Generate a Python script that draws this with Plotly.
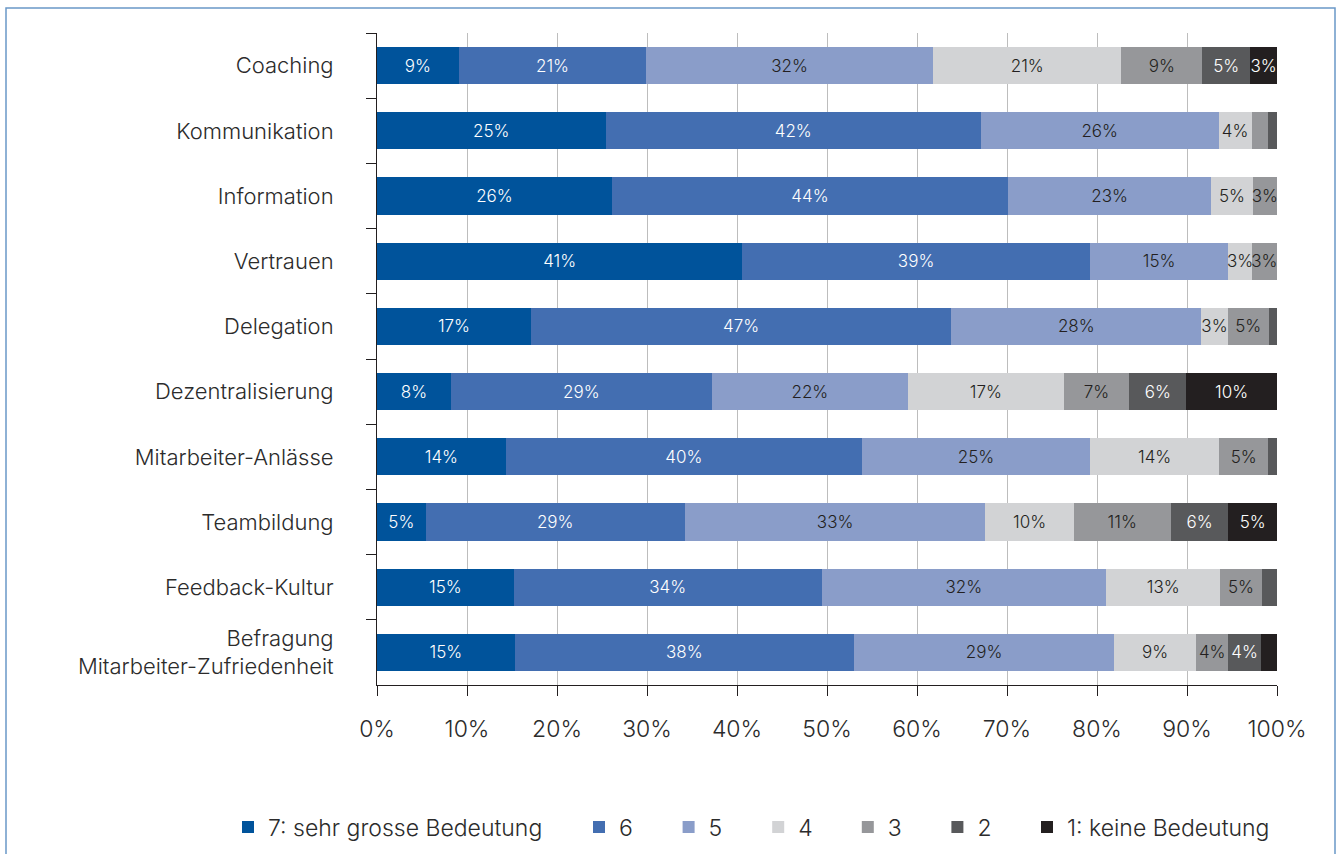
import plotly.graph_objects as go

# Categories, top to bottom
categories = [
    "Coaching",
    "Kommunikation",
    "Information",
    "Vertrauen",
    "Delegation",
    "Dezentralisierung",
    "Mitarbeiter-Anlässe",
    "Teambildung",
    "Feedback-Kultur",
    "Befragung<br>Mitarbeiter-Zufriedenheit",
]

# Share of answers per rating (percent), same order as categories
r7 = [9.1, 25.4, 26.1, 40.6, 17.1, 8.2, 14.3, 5.4, 15.2, 15.3]
r6 = [20.8, 41.7, 44.0, 38.6, 46.7, 29.0, 39.6, 28.8, 34.2, 37.7]
r5 = [31.9, 26.4, 22.6, 15.4, 27.8, 21.8, 25.3, 33.4, 31.6, 28.9]
r4 = [20.9, 3.7, 4.6, 2.6, 2.9, 17.3, 14.4, 9.8, 12.7, 9.1]
r3 = [9.0, 1.8, 2.7, 2.8, 4.6, 7.3, 5.4, 10.8, 4.6, 3.6]
r2 = [5.3, 1.0, 0.0, 0.0, 0.9, 6.3, 1.0, 6.4, 1.7, 3.6]
r1 = [3.0, 0.0, 0.0, 0.0, 0.0, 10.1, 0.0, 5.4, 0.0, 1.8]

series_names = ["7: sehr grosse Bedeutung", "6", "5", "4", "3", "2", "1: keine Bedeutung"]
series_values = [r7, r6, r5, r4, r3, r2, r1]
series_colors = ["#00539B", "#436EB1", "#8A9DC9", "#D2D3D5", "#96979A", "#58595B", "#231F20"]
label_colors = ["#FFFFFF", "#FFFFFF", "#231F20", "#231F20", "#231F20", "#FFFFFF", "#FFFFFF"]
# the extreme ratings get their own legend groups, the middle ones sit in a fixed-width row
legend_ids = ["legend", "legend2", "legend2", "legend2", "legend2", "legend2", "legend3"]

x_ticks = list(range(0, 101, 10))
x_tick_labels = [f"{t}%" for t in x_ticks]

FONT = "Inter, Liberation Sans, Arial, sans-serif"
TEXT_COLOR = "#2B2B2B"
MIN_LABEL = 2.5  # segments narrower than this stay unlabeled

fig = go.Figure()
for name, vals, col, tcol, lg in zip(series_names, series_values, series_colors, label_colors, legend_ids):
    fig.add_trace(go.Bar(
        y=categories,
        x=vals,
        name=name,
        orientation="h",
        marker=dict(color=col, line=dict(width=0)),
        text=[f"{v:.0f}%" if v >= MIN_LABEL else "" for v in vals],
        texttemplate="%{text}",
        textposition="inside",
        insidetextanchor="middle",
        textangle=0,
        constraintext="none",
        textfont=dict(family=FONT, size=17, color=tcol, weight=300),
        legend=lg,
        showlegend=True,
        hovertemplate="%{y}: %{x:.1f}%<extra>" + name + "</extra>",
    ))

W, H = 1338, 854
L, R, T, B = 377, 61, 33, 169
pw, ph = W - L - R, H - T - B


def px_x(px):
    return (px - L) / pw


def px_y(py):
    return (H - B - py) / ph


legend_common = dict(
    orientation="h",
    yanchor="middle",
    xanchor="left",
    y=px_y(827),
    font=dict(family=FONT, size=23, color=TEXT_COLOR, weight=300),
    bgcolor="rgba(0,0,0,0)",
    itemclick=False,
    itemdoubleclick=False,
    traceorder="normal",
)

fig.update_layout(
    width=W,
    height=H,
    margin=dict(l=L, r=R, t=T, b=B, autoexpand=False),
    showlegend=True,
    barmode="stack",
    bargap=0.43,
    paper_bgcolor="white",
    plot_bgcolor="white",
    font=dict(family=FONT, size=20, color=TEXT_COLOR, weight=300),
    uniformtext=dict(minsize=17, mode="show"),
    xaxis=dict(
        range=[0, 100],
        tickvals=x_ticks,
        ticktext=x_tick_labels,
        showgrid=True,
        gridcolor="#BDBDBD",
        gridwidth=1,
        zeroline=False,
        showline=True,
        linecolor="#231F20",
        linewidth=1,
        ticks="outside",
        ticklen=10,
        tickcolor="#231F20",
        ticklabelstandoff=13,
        tickfont=dict(family=FONT, size=23, color=TEXT_COLOR, weight=300),
        fixedrange=True,
    ),
    yaxis=dict(
        type="category",
        categoryorder="array",
        categoryarray=categories,
        autorange="reversed",
        tickson="boundaries",
        showgrid=False,
        showline=True,
        linecolor="#231F20",
        linewidth=1,
        ticks="outside",
        ticklen=10,
        tickcolor="#231F20",
        ticklabelstandoff=38,
        tickfont=dict(family=FONT, size=22, color=TEXT_COLOR, weight=300),
        fixedrange=True,
    ),
    legend=dict(legend_common, x=px_x(228)),
    legend2=dict(legend_common, x=px_x(579), entrywidth=44.6, entrywidthmode="pixels"),
    legend3=dict(legend_common, x=px_x(1027)),
    shapes=[
        dict(
            type="rect", xref="paper", yref="paper",
            x0=px_x(6), x1=px_x(1335), y0=px_y(880), y1=px_y(8),
            line=dict(color="#6A98C8", width=1.5),
            fillcolor="rgba(0,0,0,0)",
            layer="below",
        )
    ],
)

fig.write_html("out.html")
